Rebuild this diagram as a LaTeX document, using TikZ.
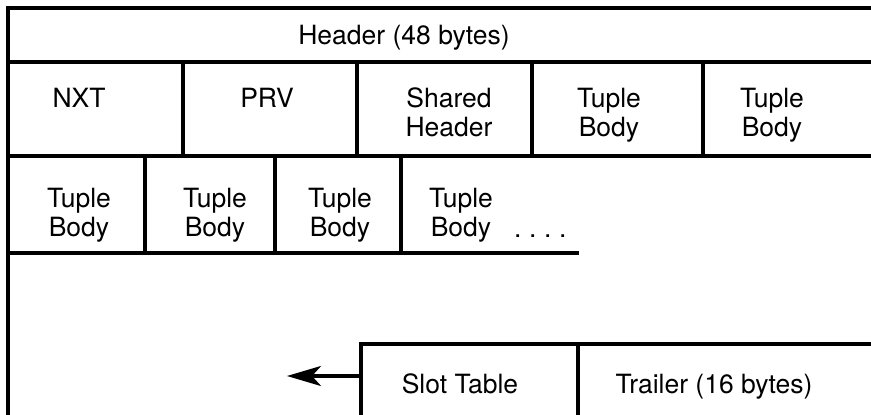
\documentclass[tikz,border=0pt]{standalone}
\usepackage{fontspec}
\setmainfont{TeX Gyre Heros}
\usetikzlibrary{arrows.meta}
\begin{document}
\begin{tikzpicture}[x=1pt,y=-1pt,
  rule/.style={line width=3.2pt},
  lbl/.style={inner sep=0pt,font=\fontsize{26.5}{29}\selectfont},
  one/.style={lbl,anchor=base},
  two/.style={lbl,anchor=north,align=center}]
\useasboundingbox (0,0) rectangle (871,415);
% grid lines
\draw[rule] (8,415) -- (8,8) -- (871,8);
\draw[rule] (8,62) -- (871,62);
\draw[rule] (8,156) -- (871,156);
\foreach \x in {183,357,532,703} \draw[rule] (\x,62) -- (\x,156);
\foreach \x in {145,275,401} \draw[rule] (\x,156) -- (\x,253);
\draw[rule] (8,253) -- (579,253);
\draw[rule] (361,415) -- (361,344) -- (871,344);
\draw[rule] (578,344) -- (578,415);
% texts
\node[one] (hdr) at (404,45) {Header (48 bytes)};
\node[one] (nxt) at (79,107) {NXT};
\node[one] (prv) at (267,107) {PRV};
\node[two] (shh) at (449,88) {Shared\\Header};
\node[two] (tb1) at (609,88) {Tuple\\Body};
\node[two] (tb2) at (772,88) {Tuple\\Body};
\node[two] (tb3) at (79,188) {Tuple\\Body};
\node[two] (tb4) at (215,188) {Tuple\\Body};
\node[two] (tb5) at (340,188) {Tuple\\Body};
\node[two] (tb6) at (461,188) {Tuple\\Body};
\node[one,anchor=base west] (dots) at (514,237) {.\hspace{7.6pt}.\hspace{7.6pt}.\hspace{7.6pt}.};
\node[one] (slot) at (460,393) {Slot Table};
\node[one] (trl) at (714,393) {Trailer (16 bytes)};
% arrow
\coordinate (slotl) at (361,376);
\coordinate (aend) at (287,376);
\draw[rule,-{Stealth[length=34pt,width=20pt,inset=9pt]}] (slotl) -- (aend);
\end{tikzpicture}
\end{document}
